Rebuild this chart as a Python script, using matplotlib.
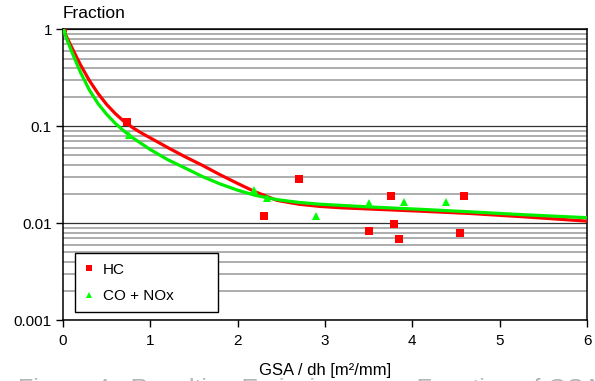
import matplotlib
matplotlib.use('Agg')
import matplotlib.pyplot as plt
from matplotlib.ticker import LogLocator, NullFormatter, FixedLocator, FixedFormatter

plt.rcParams['font.family'] = ['Liberation Sans', 'DejaVu Sans']

# measured points
hc_x = [0, 0.73, 2.30, 2.70, 3.50, 3.75, 3.79, 3.85, 4.55, 4.59]
hc_y = [1.0, 0.111, 0.012, 0.0285, 0.0084, 0.019, 0.0099, 0.0069, 0.0080, 0.019]

co_x = [0, 0.75, 2.19, 2.33, 2.90, 3.50, 3.90, 4.39]
co_y = [1.0, 0.082, 0.0218, 0.018, 0.012, 0.016, 0.0164, 0.0164]

# trend curves
hc_fit_x = [0, 0.1, 0.2, 0.3, 0.4, 0.5, 0.6, 0.7, 0.8, 0.9, 1.0, 1.2, 1.4, 1.6, 1.8,
            2.0, 2.2, 2.45, 2.7, 2.94, 3.2, 3.52, 4.1, 4.66, 5.3, 6.0]
hc_fit_y = [1.0, 0.653, 0.432, 0.299, 0.219, 0.168, 0.135, 0.112, 0.0966, 0.0851,
            0.0759, 0.0603, 0.0484, 0.0394, 0.0316, 0.0257, 0.0211, 0.0172, 0.0157,
            0.0149, 0.0144, 0.0140, 0.0133, 0.0126, 0.0116, 0.0105]

co_fit_x = [0, 0.1, 0.2, 0.3, 0.4, 0.5, 0.6, 0.7, 0.8, 0.9, 1.0, 1.2, 1.42, 1.6, 1.8,
            2.0, 2.2, 2.45, 2.7, 2.94, 3.52, 4.1, 4.66, 5.3, 6.0]
co_fit_y = [1.0, 0.589, 0.361, 0.239, 0.172, 0.133, 0.107, 0.0891, 0.0759, 0.0661,
            0.0575, 0.0452, 0.0363, 0.0302, 0.0254, 0.0219, 0.0194, 0.0175, 0.0164,
            0.0157, 0.0147, 0.0139, 0.0131, 0.0122, 0.0114]

x_ticks = [0, 1, 2, 3, 4, 5, 6]
y_ticks = [0.001, 0.01, 0.1, 1]
y_tick_labels = ['0.001', '0.01', '0.1', '1']

red = '#ff0000'
green = '#00ee00'

fig = plt.figure(figsize=(5.95, 3.81), dpi=100)
ax = fig.add_axes([0.1059, 0.160, 0.8807, 0.7626])

ax.plot(hc_fit_x, hc_fit_y, color=red, lw=2.3, zorder=3, solid_joinstyle='round')
ax.plot(co_fit_x, co_fit_y, color=green, lw=2.3, zorder=4, solid_joinstyle='round')
ax.plot(hc_x, hc_y, 's', color=red, ms=5.8, mew=0, label='HC', zorder=5)
ax.plot(co_x, co_y, '^', color='#00ff00', ms=6.2, mew=0, label='CO + NOx', zorder=5)

ax.set_yscale('log')
ax.set_xlim(0, 6)
ax.set_ylim(0.001, 1)

ax.yaxis.set_major_locator(FixedLocator(y_ticks))
ax.yaxis.set_major_formatter(FixedFormatter(y_tick_labels))
ax.yaxis.set_minor_locator(LogLocator(base=10, subs=range(2, 10)))
ax.yaxis.set_minor_formatter(NullFormatter())
ax.set_xticks(x_ticks)

ax.grid(True, which='minor', axis='y', color='#a0a0a0', lw=1.2)
ax.grid(True, which='major', axis='y', color='#333333', lw=0.9)
ax.set_axisbelow(True)

ax.tick_params(axis='x', which='major', direction='out', length=5, width=1,
               labelsize=11, pad=5)
ax.tick_params(axis='y', which='major', direction='out', length=5, width=1,
               labelsize=11, pad=3)
ax.tick_params(axis='y', which='minor', length=0)
for s in ax.spines.values():
    s.set_color('black')
    s.set_linewidth(1.1)

ax.set_xlabel('GSA / dh [m²/mm]', fontsize=12, labelpad=11)
fig.text(0.106, 0.945, 'Fraction', fontsize=12.5, ha='left', va='bottom')

leg = ax.legend(loc='lower left', bbox_to_anchor=(0.0229, 0.0275, 0.273, 0.0),
                mode='expand', fontsize=11,
                frameon=True, fancybox=False, edgecolor='black', framealpha=1,
                markerscale=0.75, handlelength=0.6, handletextpad=0.6,
                borderpad=0.6, labelspacing=0.8, borderaxespad=0)
leg.get_frame().set_linewidth(1.0)

# caption cut off at the bottom of the image, only the tops of the letters show
fig.text(0.03, -0.042, 'Figure 4:  Resulting Emissions as a Function of GSA', fontsize=18,
         color='#b4b4b4', ha='left', va='baseline')

fig.savefig('out.png', dpi=100)
